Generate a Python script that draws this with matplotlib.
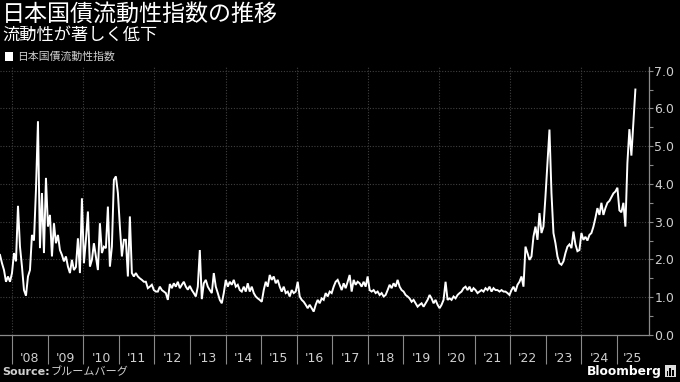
import matplotlib
matplotlib.use("Agg")
import matplotlib.pyplot as plt
import matplotlib.dates as mdates
from matplotlib.patches import Rectangle
from matplotlib.ticker import FixedLocator, MultipleLocator, NullFormatter
import numpy as np
import pandas as pd

plt.rcParams["font.family"] = ["Noto Sans CJK JP", "DejaVu Sans"]

vals_2007_2011 = [
    2.12, 1.90, 1.72, 1.41, 1.55, 1.41, 1.64, 2.17, 1.95, 3.42,
    2.34, 1.81, 1.19, 1.04, 1.55, 1.72, 2.65, 2.50, 3.85, 5.66,
    2.30, 3.76, 2.17, 4.16, 2.87, 3.18, 2.08, 2.96, 2.43, 2.65,
    2.25, 2.12, 1.95, 2.08, 1.81, 1.64, 1.99, 1.72, 1.80, 2.56,
    1.64, 3.62, 1.90, 2.52, 3.27, 1.81, 1.99, 2.43, 2.08, 1.72,
    2.96, 2.17, 2.34, 2.30, 3.40, 1.81, 2.34, 4.11, 4.20, 3.76,
    2.87, 2.08, 2.52, 2.52, 1.55, 3.14, 1.64, 1.55, 1.64, 1.55,
    1.50, 1.46, 1.41, 1.41, 1.24, 1.28, 1.33, 1.19, 1.15, 1.15,
    1.28, 1.19, 1.15, 1.11, 0.93,
]
vals_2012_2016 = [
    1.35, 1.24, 1.37, 1.28, 1.41, 1.24, 1.33, 1.41, 1.28, 1.20,
    1.30, 1.19, 1.11, 1.02, 1.28, 2.25, 0.95, 1.37, 1.46, 1.28,
    1.19, 1.11, 1.64, 1.28, 1.11, 0.93, 0.84, 1.11, 1.46, 1.28,
    1.41, 1.33, 1.46, 1.28, 1.33, 1.19, 1.15, 1.28, 1.15, 1.37,
    1.15, 1.28, 1.11, 1.02, 0.97, 0.93, 0.88, 1.19, 1.41, 1.28,
    1.59, 1.46, 1.55, 1.37, 1.46, 1.28, 1.15, 1.28, 1.11, 1.15,
    1.02, 1.19, 1.11, 1.15, 1.41, 1.02, 0.93, 0.88, 0.80, 0.71,
    0.80, 0.71, 0.62, 0.80, 0.93, 0.84, 0.97, 0.93, 1.11, 1.02,
    1.15, 1.11, 1.28, 1.41, 1.46,
]
vals_2017_2021 = [
    1.33, 1.19, 1.37, 1.24, 1.41, 1.59, 1.15, 1.46, 1.33, 1.41,
    1.37, 1.28, 1.41, 1.28, 1.55, 1.19, 1.15, 1.19, 1.11, 1.15,
    1.06, 1.11, 1.02, 1.06, 1.19, 1.33, 1.24, 1.37, 1.28, 1.46,
    1.28, 1.19, 1.15, 1.06, 1.02, 0.97, 0.88, 0.93, 0.84, 0.75,
    0.80, 0.84, 0.75, 0.84, 0.93, 1.06, 0.97, 0.84, 0.93, 0.80,
    0.71, 0.80, 0.93, 1.41, 0.93, 0.97, 0.93, 1.02, 0.97, 1.06,
    1.11, 1.15, 1.24, 1.28, 1.19, 1.28, 1.15, 1.24, 1.19, 1.11,
    1.15, 1.19, 1.15, 1.24, 1.19, 1.28, 1.15, 1.24, 1.19, 1.19,
    1.15, 1.19, 1.15, 1.15, 1.11,
]
vals_2022_2025 = [
    1.06, 1.19, 1.28, 1.15, 1.33, 1.41, 1.55, 1.28, 2.34, 2.17,
    1.99, 2.08, 2.61, 2.87, 2.52, 3.23, 2.70, 2.87, 3.67, 4.55,
    5.44, 3.76, 2.70, 2.43, 2.08, 1.90, 1.86, 1.95, 2.17, 2.34,
    2.40, 2.30, 2.74, 2.40, 2.22, 2.25, 2.70, 2.52, 2.60, 2.50,
    2.65, 2.70, 2.87, 3.10, 3.36, 3.18, 3.50, 3.18, 3.36, 3.50,
    3.55, 3.65, 3.75, 3.80, 3.90, 3.30, 3.25, 3.50, 2.87, 4.55,
    5.45, 4.75, 5.65, 6.50,
]
values = vals_2007_2011 + vals_2012_2016 + vals_2017_2021 + vals_2022_2025
dates = pd.date_range("2007-08-30", "2025-07-11", periods=len(values))

years = list(range(2008, 2026))
year_labels = [f"'{y % 100:02d}" for y in years]
y_ticks = [0, 1, 2, 3, 4, 5, 6, 7]

GRID = "#404040"
AXIS = "#8a8a8a"
TXT = "#cfcfcf"

fig = plt.figure(figsize=(6.8, 3.82), dpi=100, facecolor="black")
ax = fig.add_axes([0.0, 0.123, 0.954, 0.702])
ax.set_facecolor("black")

x_left = pd.Timestamp("2007-08-30")
x_right = pd.Timestamp("2025-11-25")

ax.plot(dates, values, color="white", lw=1.4, zorder=3, solid_joinstyle="miter")
ax.set_ylim(0, 7.1)
ax.set_xlim(x_left, x_right)

# gridlines
for v in y_ticks[1:]:
    ax.axhline(v, color=GRID, lw=0.8, ls=(0, (1, 1.5)), zorder=1)
for y in years[::2]:
    ax.axvline(pd.Timestamp(f"{y}-01-01"), color=GRID, lw=0.8, ls=(0, (1, 1.5)), zorder=1)

# y axis on the right
ax.yaxis.tick_right()
ax.set_yticks(y_ticks)
ax.set_yticklabels([f"{v:.1f}" for v in y_ticks], family="DejaVu Sans")
ax.yaxis.set_minor_locator(MultipleLocator(0.5))
ax.tick_params(axis="y", which="both", colors=AXIS, labelcolor=TXT,
               labelsize=9, length=3, width=0.8, pad=1)

# x axis: long ticks at year starts, labels centred in each year
year_starts = [mdates.date2num(pd.Timestamp(f"{y}-01-01")) for y in years]
mids = []
for i, y in enumerate(years):
    a = year_starts[i]
    b = year_starts[i + 1] if i + 1 < len(years) else mdates.date2num(x_right)
    mids.append((a + b) / 2)
ax.xaxis.set_major_locator(FixedLocator(year_starts))
ax.xaxis.set_major_formatter(NullFormatter())
ax.xaxis.set_minor_locator(FixedLocator(mids))
ax.set_xticklabels(year_labels, minor=True, family="DejaVu Sans")
ax.tick_params(axis="x", which="major", colors=AXIS, length=21, width=0.8)
ax.tick_params(axis="x", which="minor", length=0, labelcolor=TXT, labelsize=9, pad=12)

for s in ["top", "left"]:
    ax.spines[s].set_visible(False)
for s in ["right", "bottom"]:
    ax.spines[s].set_color(AXIS)
    ax.spines[s].set_linewidth(0.9)

# titles and legend
fig.text(0.003, 0.963, "日本国債流動性指数の推移", color="white", fontsize=16.6, va="center")
fig.text(0.003, 0.909, "流動性が著しく低下", color="white", fontsize=12.4, va="center")
fig.patches.append(Rectangle((0.008, 0.84), 0.0105, 0.023, transform=fig.transFigure,
                             facecolor="white", edgecolor="none"))
fig.text(0.025, 0.851, "日本国債流動性指数", color=TXT, fontsize=7.8, va="center")

# footer
fig.text(0.004, 0.027, "Source:", color=TXT, fontsize=8, fontweight="bold",
         family="DejaVu Sans", va="center")
fig.text(0.075, 0.027, "ブルームバーグ", color=TXT, fontsize=8, va="center")
fig.text(0.973, 0.027, "Bloomberg", color="white", fontsize=8.8, fontweight="bold",
         family="DejaVu Sans", va="center", ha="right")
fig.patches.append(Rectangle((0.978, 0.012), 0.016, 0.032, transform=fig.transFigure,
                             facecolor="#dddddd", edgecolor="none"))
for dx, h in [(0.0025, 0.012), (0.0065, 0.02), (0.0105, 0.016)]:
    fig.patches.append(Rectangle((0.978 + dx, 0.016), 0.0025, h, transform=fig.transFigure,
                                 facecolor="black", edgecolor="none"))

fig.savefig("out.png", dpi=100, facecolor="black")
